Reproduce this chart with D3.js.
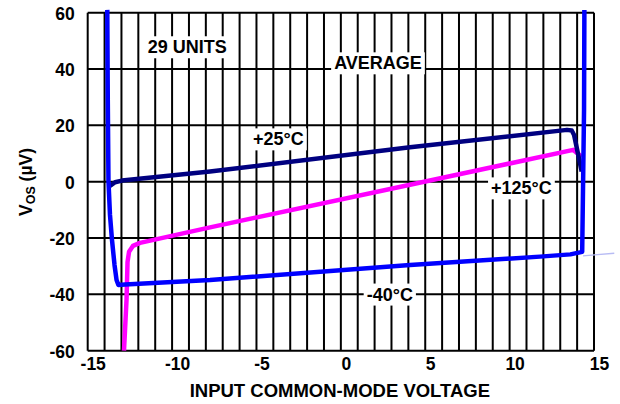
<!DOCTYPE html>
<html><head><meta charset="utf-8">
<script src="https://cdn.jsdelivr.net/npm/d3@7"></script>
<style>
html,body{margin:0;padding:0;background:#fff;}
svg{display:block;font-family:"Liberation Sans",Arial,Helvetica,sans-serif;font-weight:bold;}
</style></head>
<body><svg id="c" width="620" height="404"></svg>
<script>
// ---- data ----
const xTicks = [-15,-10,-5,0,5,10,15];
const yTicks = [60,40,20,0,-20,-40,-60];
const xGrid = d3.range(-15,16,1);
const yGrid = [60,40,20,0,-20,-40,-60];

// -40°C (blue)
const tMinus40V   = [-13.84,-13.81,-13.77,-13.68,-13.56,-13.41,-13.29,-13.18,-12.79,-7.75,4.10,11.80,13.60,14.30,14.41,14.43];
const tMinus40Vos = [61,29.1,0.3,-11.8,-20.7,-29.6,-34.9,-36.7,-36.5,-34.9,-29.55,-26.6,-25.8,-24.9,25.5,61];
// +25°C (navy)
const t25V   = [-13.68,-13.38,-12.97,-7.75,4.10,13.40,13.68,13.82,14.27];
const t25Vos = [-1.5,-0.2,0.4,3.6,12.2,18.4,18.2,16.6,3.6];
// +125°C (magenta)
const t125V   = [-12.85,-12.70,-12.64,-12.55,-12.32,-11.90,-7.75,4.10,13.77,14.27];
const t125Vos = [-60,-42,-28.5,-24.9,-22.8,-21.7,-16.2,-1.1,11.3,8.9];
// faint stray trace at right edge
const strayV = [14.35,16.2];
const strayVos = [-26.3,-25.4];

const labels = ["29 UNITS","AVERAGE","+25°C","+125°C","-40°C"];
const labelV = [-9.1,2.2,-3.7,10.7,2.9];
const labelVos = [47.9,42.2,15.2,-2.2,-39.9];

// ---- layout ----
const svg = d3.select("#c");
const L=87.7,R=594,T=12.7,B=350.7;
const x = d3.scaleLinear().domain([-15,15]).range([L,R]);
const y = d3.scaleLinear().domain([-60,60]).range([B,T]);

const g = svg.append("g");
// grid
g.selectAll(".vg").data(xGrid).enter().append("line")
 .attr("x1",d=>x(d)).attr("x2",d=>x(d)).attr("y1",T).attr("y2",B)
 .attr("stroke","#000").attr("stroke-width",2);
g.selectAll(".hg").data(yGrid).enter().append("line")
 .attr("x1",L).attr("x2",R).attr("y1",d=>y(d)).attr("y2",d=>y(d))
 .attr("stroke","#000").attr("stroke-width",2);

// tick labels
const xAxis = d3.axisBottom(x).tickValues(xTicks).tickSize(0).tickPadding(7).tickFormat(d3.format("d"));
const xa = svg.append("g").attr("transform",`translate(0,${B})`).call(xAxis);
xa.select(".domain").remove();
xa.selectAll("text").attr("font-size",17.5).attr("font-family","Liberation Sans, Arial, sans-serif")
  .attr("font-weight","bold").attr("fill","#000").attr("dx",5).text(d=>d<0?"-"+Math.abs(d):d);
const yAxis = d3.axisLeft(y).tickValues(yTicks).tickSize(0).tickPadding(13).tickFormat(d3.format("d"));
const ya = svg.append("g").attr("transform",`translate(${L},0)`).call(yAxis);
ya.select(".domain").remove();
ya.selectAll("text").attr("font-size",17.5).attr("font-family","Liberation Sans, Arial, sans-serif")
  .attr("font-weight","bold").attr("fill","#000").attr("dy","0.36em").text(d=>d<0?"-"+Math.abs(d):d);

// curves
const line = d3.line().x(d=>x(d[0])).y(d=>y(d[1]));
function series(vs, os){ return vs.map((v,i)=>[v,os[i]]); }
svg.append("path").datum(series(strayV,strayVos)).attr("d",line)
 .attr("fill","none").attr("stroke","#b8bcf4").attr("stroke-width",1.3);
svg.append("path").datum(series(t125V,t125Vos)).attr("d",line)
 .attr("fill","none").attr("stroke","#ff00ff").attr("stroke-width",4.5).attr("stroke-linejoin","round");
svg.append("path").datum(series(t25V,t25Vos)).attr("d",line)
 .attr("fill","none").attr("stroke","#000080").attr("stroke-width",4.5).attr("stroke-linejoin","round");
svg.append("path").datum(series(tMinus40V,tMinus40Vos)).attr("d",line)
 .attr("fill","none").attr("stroke","#0000ff").attr("stroke-width",4.5).attr("stroke-linejoin","round");

// annotations with white background
labels.forEach((t,i)=>{
  const gg = svg.append("g");
  const r = gg.append("rect").attr("fill","#fff");
  const tx = gg.append("text").attr("x",x(labelV[i])).attr("y",y(labelVos[i]))
    .attr("text-anchor","middle").attr("dy","0.36em").attr("font-size",18).attr("fill","#000").text(t);
  const bb = tx.node().getBBox();
  r.attr("x",bb.x-3).attr("y",bb.y-1).attr("width",bb.width+6).attr("height",bb.height+2);
});

// axis titles
svg.append("text").attr("x",(L+R)/2-1).attr("y",397).attr("text-anchor","middle")
 .attr("font-size",18.5).attr("fill","#000").text("INPUT COMMON-MODE VOLTAGE");
const yt = svg.append("text").attr("transform","translate(32,182) rotate(-90)")
 .attr("text-anchor","middle").attr("font-size",17.5).attr("fill","#000");
yt.append("tspan").text("V");
yt.append("tspan").attr("font-size",12.5).attr("dy",3).text("OS");
yt.append("tspan").attr("dy",-3).text(" (µV)");
</script></body></html>
